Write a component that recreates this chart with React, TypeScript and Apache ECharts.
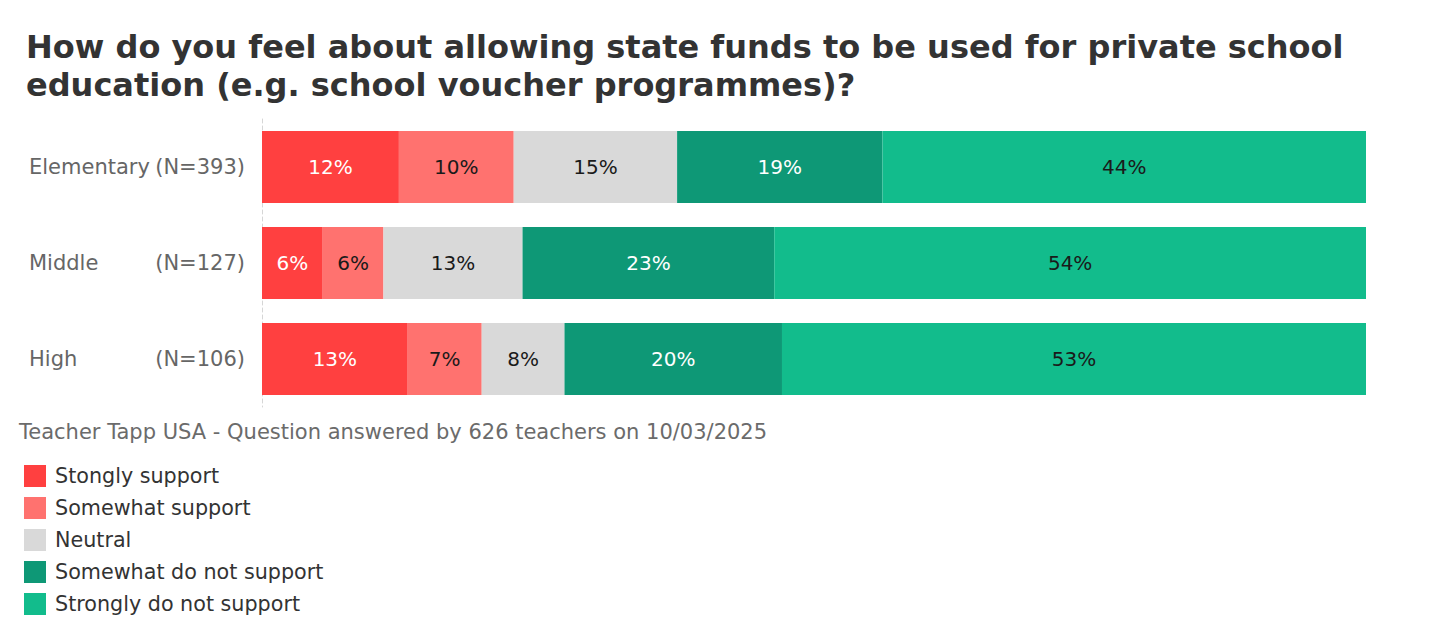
import React, { useEffect, useRef } from "react";
import * as echarts from "echarts";

const categories = ["Elementary", "Middle", "High"];
const sampleSizes = ["(N=393)", "(N=127)", "(N=106)"];
const seriesNames = [
  "Stongly support",
  "Somewhat support",
  "Neutral",
  "Somewhat do not support",
  "Strongly do not support",
];
const stronglySupport = [12.4, 5.5, 13.2];
const somewhatSupport = [10.4, 5.5, 6.7];
const neutral = [14.8, 12.6, 7.5];
const somewhatNot = [18.6, 22.8, 19.7];
const stronglyNot = [43.8, 53.6, 52.9];
const seriesValues = [stronglySupport, somewhatSupport, neutral, somewhatNot, stronglyNot];
const colors = ["#FF4040", "#FF726F", "#D9D9D9", "#0E9876", "#12BC8C"];
const labelColors = ["#ffffff", "#1a1a1a", "#1a1a1a", "#ffffff", "#1a1a1a"];

const FONT = "DejaVu Sans";

export default function App() {
  const ref = useRef<HTMLDivElement>(null);
  useEffect(() => {
    document.body.style.margin = "0";
    if (!ref.current) return;
    const chart = echarts.init(ref.current, null, { renderer: "svg" });
    chart.setOption({
      animation: false,
      backgroundColor: "#ffffff",
      textStyle: { fontFamily: FONT },
      title: {
        text:
          "How do you feel about allowing state funds to be used for private school\neducation (e.g. school voucher programmes)?",
        left: 21,
        top: 23,
        textStyle: {
          fontFamily: FONT,
          fontWeight: "bold",
          fontSize: 32,
          lineHeight: 38,
          color: "#333333",
        },
      },
      grid: { left: 262, right: 74, top: 119, bottom: 233, containLabel: false },
      xAxis: {
        type: "value",
        min: 0,
        max: 100,
        show: false,
      },
      yAxis: {
        type: "category",
        inverse: true,
        data: categories,
        axisLine: { show: true, lineStyle: { color: "#d6d6d6", type: [4, 3], width: 1 } },
        axisTick: { show: false },
        axisLabel: {
          margin: 17,
          formatter: (v: string, i: number) => `{a|${v}}{b|${sampleSizes[i]}}`,
          rich: {
            a: { fontFamily: FONT, fontSize: 21, color: "#666666", width: 124, align: "left" },
            b: { fontFamily: FONT, fontSize: 21, color: "#666666", width: 92, align: "right" },
          },
        },
      },
      legend: {
        orient: "vertical",
        left: 24,
        top: 465,
        padding: 0,
        itemWidth: 22,
        itemHeight: 22,
        itemGap: 10,
        icon: "rect",
        data: seriesNames,
        textStyle: { fontFamily: FONT, fontSize: 20.7, color: "#333333", padding: [0, 0, 0, 4] },
      },
      graphic: [
        {
          type: "text",
          left: 19,
          top: 421,
          style: {
            text: "Teacher Tapp USA - Question answered by 626 teachers on 10/03/2025",
            fontFamily: FONT,
            fontSize: 21,
            fill: "#6b6b6b",
          },
        },
      ],
      series: seriesNames.map((name, si) => ({
        name,
        type: "bar",
        stack: "total",
        barCategoryGap: "25%",
        data: seriesValues[si],
        itemStyle: { color: colors[si] },
        label: {
          show: true,
          position: "inside",
          fontFamily: FONT,
          fontSize: 20,
          color: labelColors[si],
          formatter: (p: any) => `${Math.round(p.value)}%`,
        },
      })),
    });
    return () => chart.dispose();
  }, []);
  return <div ref={ref} style={{ width: 1440, height: 640 }} />;
}
